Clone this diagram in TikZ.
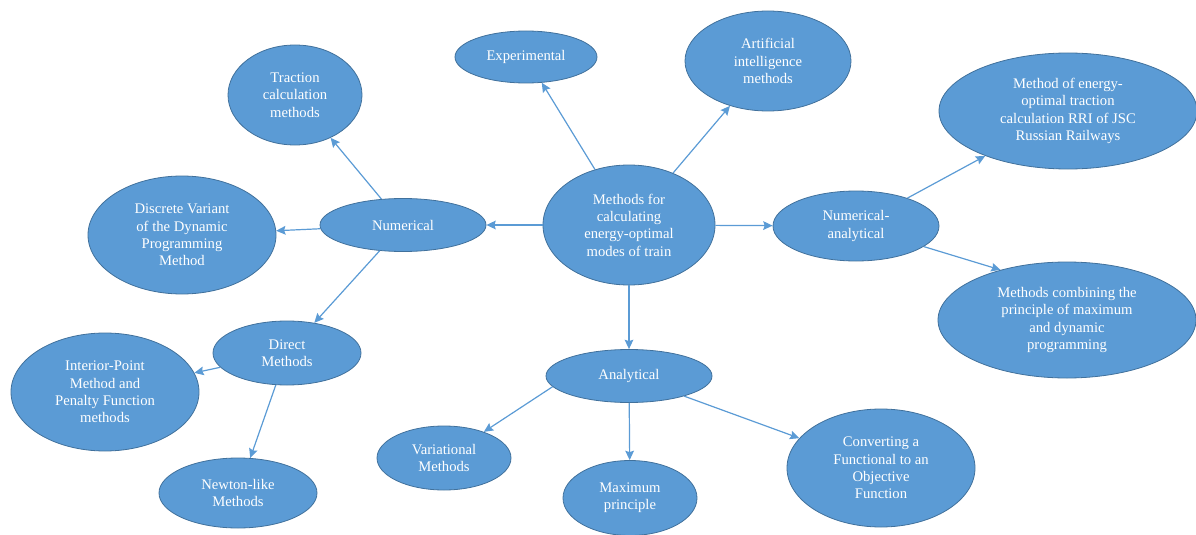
\documentclass[tikz,border=0pt]{standalone}
\usepackage{fontspec}
\setmainfont{Liberation Serif}
\usepackage{tikz}
\usetikzlibrary{shapes.geometric,arrows.meta}

\definecolor{blobfill}{HTML}{5B9BD5}
\definecolor{blobline}{HTML}{41719C}
\definecolor{linkblue}{HTML}{5B9BD5}

\begin{document}
\begin{tikzpicture}[x=0.75pt,y=-0.75pt,>={Stealth[length=7pt,width=6.5pt,inset=1pt]}]
	\tikzset{blob/.style={ellipse,draw=blobline,line width=0.6pt,fill=blobfill,text=white,
		align=center,inner sep=0pt,font=\fontsize{11}{13}\selectfont}}
	\tikzset{dims/.style 2 args={minimum width=#1*0.75pt,minimum height=#2*0.75pt}}
	\useasboundingbox (0,0) rectangle (1196,535);
	\node[blob,dims={172}{120}] (c) at (629,225) {Methods for\\calculating\\energy-optimal\\modes of train};
	\node[blob,dims={142}{52}] (exp) at (526,57) {Experimental};
	\node[blob,dims={166}{100}] (ai) at (768,61) {Artificial\\intelligence\\methods};
	\node[blob,dims={134}{100}] (trac) at (295,95) {Traction\\calculation\\methods};
	\node[blob,dims={188}{118}] (disc) at (182,235) {Discrete Variant\\of the Dynamic\\Programming\\Method};
	\node[blob,dims={166}{53}] (num) at (403,225) {Numerical};
	\node[blob,dims={166}{70}] (na) at (856,226) {Numerical-\\analytical};
	\node[blob,dims={258}{116}] (rri) at (1068,111) {Method of energy-\\optimal traction\\calculation RRI of JSC\\Russian Railways};
	\node[blob,dims={258}{116}] (comb) at (1067,320) {Methods combining the\\principle of maximum\\and dynamic\\programming};
	\node[blob,dims={148}{64}] (dir) at (287,353) {Direct\\Methods};
	\node[blob,dims={188}{118}] (int) at (105,392) {Interior-Point\\Method and\\Penalty Function\\methods};
	\node[blob,dims={158}{70}] (new) at (238,493) {Newton-like\\Methods};
	\node[blob,dims={166}{53}] (ana) at (629,376) {Analytical};
	\node[blob,dims={134}{64}] (var) at (444,458) {Variational\\Methods};
	\node[blob,dims={134}{75}] (max) at (630,498) {Maximum\\principle};
	\node[blob,dims={188}{118}] (conv) at (881,468) {Converting a\\Functional to an\\Objective\\Function};
	\path[->,color=linkblue,line width=0.9pt]
		(c) edge (exp)
		(c) edge (ai)
		(c) edge (num)
		(c) edge (na)
		(c) edge (ana)
		(num) edge (trac)
		(num) edge (disc)
		(num) edge (dir)
		(dir) edge (int)
		(dir) edge (new)
		(na) edge (rri)
		(na) edge (comb.143)
		(ana.188) edge (var)
		(ana) edge (max)
		(ana) edge (conv);
\end{tikzpicture}
\end{document}
